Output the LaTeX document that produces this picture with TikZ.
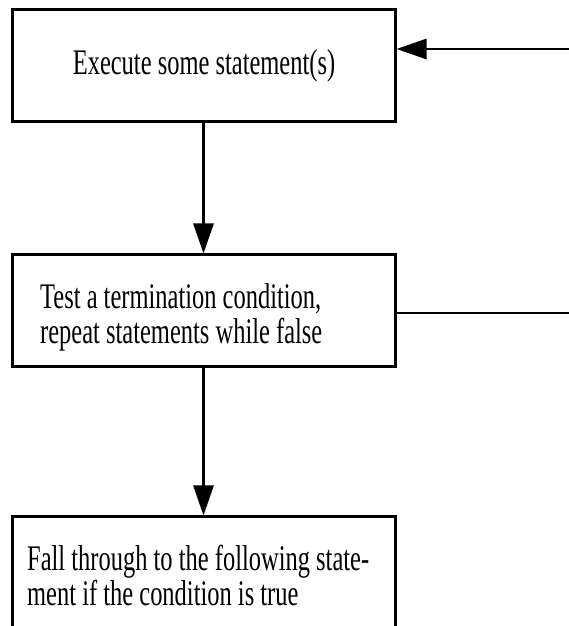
\documentclass[tikz,border=0pt]{standalone}
\usepackage{fontspec}
\setmainfont{Liberation Serif}[FakeStretch=0.68]
\usetikzlibrary{arrows.meta}

\begin{document}
\begin{tikzpicture}[x=1pt,y=1pt]
\tikzstyle{every node}+=[inner sep=0pt]
\tikzstyle{stepbox}=[draw=black, line width=3pt, minimum width=383pt, minimum height=112pt]
\tikzstyle{boxtext}=[font=\fontsize{36}{35}\selectfont, align=left]
\tikzstyle{flow}=[black, line width=2.8pt, -{Triangle[length=30pt,width=20pt]}]
\useasboundingbox (0,0) rectangle (569,626);
\clip (0,0) rectangle (569,626);
\node [stepbox] (exec) at (203.5,560) {};
\node [stepbox] (test) at (203.5,315) {};
\node [stepbox] (fall) at (203.5,53) {};
\node [boxtext, anchor=base] (exectext) at (204,551) {Execute some statement(s)};
\node [boxtext, anchor=west] (testtext) at (40,309) {Test a termination condition,\\repeat statements while false};
\node [boxtext, anchor=west] (falltext) at (27,50) {Fall through to the following state-\\ment if the condition is true};
\coordinate (in) at (569,577);
\coordinate (out) at (569,313);
\draw [flow] (exec) -- (test);
\draw [flow] (test) -- (fall);
\draw [flow] (in) -- (in -| exec.east);
\draw [black, line width=2.8pt] (test.east |- out) -- (out);
\end{tikzpicture}
\end{document}
